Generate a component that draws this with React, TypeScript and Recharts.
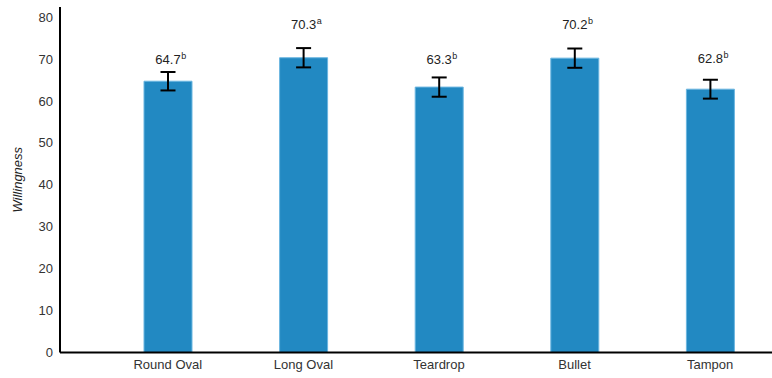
import React from "react";
import { BarChart, Bar, XAxis, YAxis, ErrorBar, LabelList, Label } from "recharts";

const categories = ["Round Oval", "Long Oval", "Teardrop", "Bullet", "Tampon"];
const willingness = [64.7, 70.3, 63.3, 70.2, 62.8];
const errors = [2.2, 2.3, 2.3, 2.3, 2.25];
const letters = ["b", "a", "b", "b", "b"];
// level (in Willingness units) at which each value label sits
const labelLevels = [70.0, 78.2, 70.0, 78.2, 70.1];
const yTicks = [0, 10, 20, 30, 40, 50, 60, 70, 80];

const data = categories.map((name, i) => ({
  name,
  value: willingness[i],
  err: errors[i],
  letter: letters[i],
}));

const FONT = "'Liberation Sans', Arial, Helvetica, sans-serif";

const textWidth = (s: string, fs: number) =>
  s.split("").reduce((w, c) => w + (c === "." ? 0.278 : 0.556) * fs, 0);

const BarValueLabel = (props: any) => {
  const { x, y, width, height, value, index } = props;
  const v = Number(value);
  const pxPerUnit = Number(height) / v;
  const zeroY = Number(y) + Number(height);
  const centerY = zeroY - labelLevels[index] * pxPerUnit;
  const cx = Number(x) + Number(width) / 2;
  const fs = 13;
  const baseline = centerY + 4.7;
  const label = v.toFixed(1);
  const half = textWidth(label, fs) / 2;
  return (
    <g>
      <text x={cx} y={baseline} textAnchor="middle" fontSize={fs} fill="#222" fontFamily={FONT}>
        {label}
      </text>
      <text x={cx + half + 0.5} y={baseline - 5} textAnchor="start" fontSize={9} fill="#222" fontFamily={FONT}>
        {letters[index]}
      </text>
    </g>
  );
};

const YTitle = (props: any) => {
  const vb = props.viewBox || {};
  const cx = (vb.x || 0) + 17;
  const cy = (vb.y || 0) + (vb.height || 0) / 2;
  return (
    <text
      x={cx}
      y={cy}
      transform={`rotate(-90, ${cx}, ${cy})`}
      textAnchor="middle"
      dominantBaseline="central"
      fontSize={13}
      fontStyle="italic"
      fill="#222"
      fontFamily={FONT}
    >
      Willingness
    </text>
  );
};

export default function App() {
  return (
    <div
      style={{
        position: "absolute",
        left: 0,
        top: 0,
        width: 772,
        height: 378,
        overflow: "hidden",
        background: "#fff",
      }}
    >
      <BarChart
        width={780}
        height={378}
        data={data}
        margin={{ top: 7, right: 2, bottom: 0, left: 0 }}
      >
        <XAxis
          dataKey="name"
          height={25.5}
          padding={{ left: 40, right: 0 }}
          axisLine={{ stroke: "#000", strokeWidth: 2 }}
          tickLine={false}
          tickSize={6}
          tickMargin={1}
          tick={{ fontSize: 13, fill: "#333", fontFamily: FONT }}
          interval={0}
        />
        <YAxis
          width={60}
          domain={[0, 82.4]}
          ticks={yTicks}
          allowDataOverflow
          axisLine={{ stroke: "#000", strokeWidth: 2 }}
          tickLine={false}
          tickSize={6}
          tickMargin={1}
          tick={{ fontSize: 13, fill: "#333", fontFamily: FONT }}
        >
          <Label content={<YTitle />} />
        </YAxis>
        <Bar
          dataKey="value"
          fill="#2289C2"
          stroke="#6bb6e0"
          strokeWidth={1}
          barSize={48}
          isAnimationActive={false}
        >
          <ErrorBar dataKey="err" width={7.5} stroke="#000" strokeWidth={2} direction="y" />
          <LabelList dataKey="value" content={<BarValueLabel />} />
        </Bar>
      </BarChart>
    </div>
  );
}
